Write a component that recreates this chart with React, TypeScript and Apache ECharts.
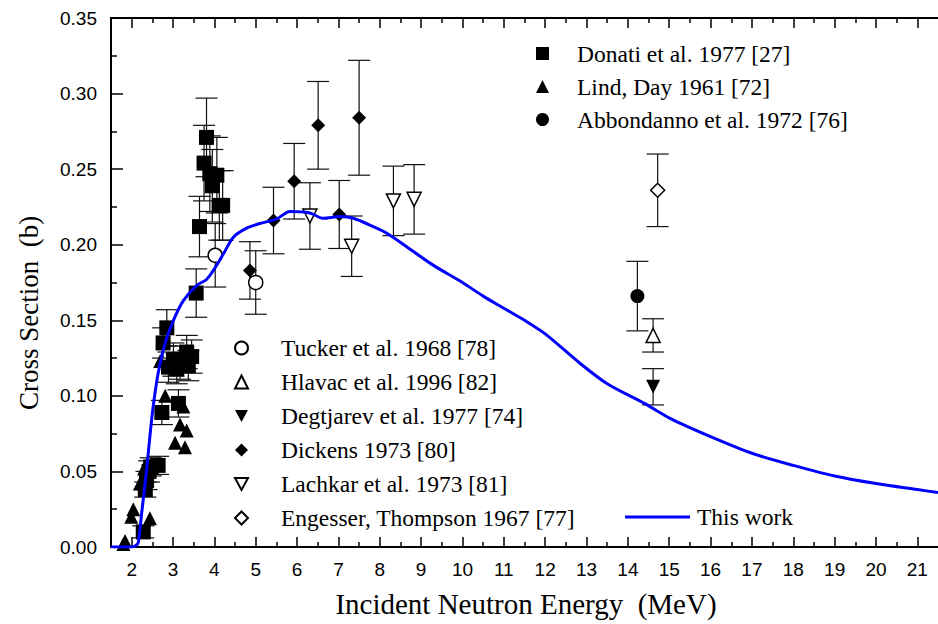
import React, { useEffect, useRef } from "react";
import * as echarts from "echarts";

// ---- axis ticks ----
const xMajorTicks = [2, 3, 4, 5, 6, 7, 8, 9, 10, 11, 12, 13, 14, 15, 16, 17, 18, 19, 20, 21];
const xMinorTicks = [2.5, 3.5, 4.5, 5.5, 6.5, 7.5, 8.5, 9.5, 10.5, 11.5, 12.5, 13.5, 14.5, 15.5, 16.5, 17.5, 18.5, 19.5, 20.5];

// ---- data: [E (MeV), sigma (b), error] ----
const donati = [
  [2.28, 0.010, 0.004], [2.33, 0.038, 0.005], [2.36, 0.044, 0.006], [2.42, 0.050, 0.007],
  [2.46, 0.053, 0.006], [2.64, 0.054, 0.006], [2.73, 0.089, 0.008], [2.76, 0.135, 0.010],
  [2.85, 0.145, 0.012], [2.89, 0.119, 0.010], [3.01, 0.124, 0.011], [3.09, 0.118, 0.010],
  [3.13, 0.095, 0.009], [3.17, 0.122, 0.011], [3.33, 0.129, 0.011], [3.37, 0.120, 0.010],
  [3.45, 0.126, 0.011], [3.56, 0.168, 0.016], [3.64, 0.212, 0.020], [3.75, 0.254, 0.025],
  [3.81, 0.271, 0.026], [3.89, 0.247, 0.025], [3.95, 0.239, 0.024], [4.06, 0.246, 0.025],
  [4.12, 0.226, 0.023], [4.20, 0.226, 0.023],
];
const lind = [
  [1.80, 0.002], [1.84, 0.004], [1.99, 0.020], [2.04, 0.025], [2.20, 0.042], [2.28, 0.046],
  [2.30, 0.052], [2.44, 0.019], [2.69, 0.123], [2.81, 0.100], [3.05, 0.069], [3.17, 0.081],
  [3.25, 0.093], [3.29, 0.066], [3.33, 0.077],
];
const abbondanno = [[14.23, 0.166, 0.023]];
const tucker = [[4.02, 0.193, 0.021], [5.0, 0.175, 0.021]];
const hlavac = [[14.61, 0.140, 0.011]];
const degtjarev = [[14.61, 0.106, 0.012]];
const dickens = [
  [4.86, 0.183, 0.019], [5.43, 0.216, 0.022], [5.93, 0.242, 0.025], [6.51, 0.279, 0.029],
  [7.02, 0.220, 0.0225], [7.50, 0.284, 0.038],
];
const lachkar = [[6.31, 0.219, 0.022], [7.32, 0.199, 0.020], [8.33, 0.229, 0.023], [8.83, 0.230, 0.023]];
const engesser = [[14.72, 0.236, 0.024]];

const thisWorkE = [
  1.5, 2.0, 2.1, 2.16, 2.24, 2.36, 2.44, 2.52, 2.64, 2.81, 3.01, 3.25, 3.57, 3.81, 4.0, 4.22,
  4.46, 4.78, 5.1, 5.5, 5.83, 6.31, 6.63, 7.04, 7.36, 7.84, 8.17, 8.65, 9.29, 10.0, 10.5, 11.0,
  11.5, 12.0, 12.84, 13.5, 14.4, 15.02, 16, 17, 18, 19, 20, 21, 21.5,
];
const thisWorkSigma = [
  0, 0, 0.001, 0.003, 0.022, 0.051, 0.073, 0.093, 0.115, 0.135, 0.150, 0.163, 0.173, 0.177, 0.184, 0.194,
  0.205, 0.211, 0.214, 0.217, 0.222, 0.221, 0.2175, 0.2186, 0.2175, 0.212, 0.2076, 0.1987, 0.1865, 0.175, 0.166, 0.158,
  0.150, 0.141, 0.1216, 0.108, 0.095, 0.0851, 0.073, 0.062, 0.054, 0.047, 0.042, 0.038, 0.036,
];

const SERIF = "'Liberation Serif', 'Times New Roman', serif";
const SANS = "'Liberation Sans', Arial, sans-serif";
const DOWN_TRIANGLE = "path://M0,0L12,0L6,11Z";

function scatter(name: string, rows: number[][], symbol: string, filled: boolean, rotate = 0, size = 14) {
  return {
    name,
    type: "scatter",
    data: rows.map((r) => [r[0], r[1]]),
    symbol,
    symbolSize: size,
    symbolRotate: rotate,
    z: 5,
    itemStyle: filled
      ? { color: "#000", borderWidth: 0, opacity: 1 }
      : { color: "#fff", borderColor: "#000", borderWidth: 1.5, opacity: 1 },
    emphasis: { disabled: true },
  };
}

export default function App() {
  const ref = useRef<HTMLDivElement>(null);
  useEffect(() => {
    const chart = echarts.init(ref.current!, null, { renderer: "svg" });
    const withErr = [donati, abbondanno, tucker, hlavac, degtjarev, dickens, lachkar, engesser];
    const errData: number[][] = [];
    withErr.forEach((s) => s.forEach((r) => errData.push([r[0], r[1] - r[2], r[1] + r[2]])));

    const xBase = {
      type: "value",
      min: 1.5,
      max: 21.5,
      splitLine: { show: false },
      axisLine: { onZero: false, show: true, lineStyle: { color: "#000", width: 2 } },
    };
    const legendText = (lh: number, padLeft: number) => ({
      fontFamily: SERIF,
      fontSize: 23.5,
      color: "#000",
      lineHeight: lh,
      padding: [0, 0, 0, padLeft],
    });

    const option: any = {
      animation: false,
      backgroundColor: "#fff",
      grid: { left: 111, right: 0, top: 18, bottom: 77, containLabel: false },
      xAxis: [
        {
          ...xBase,
          position: "bottom",
          axisTick: { show: true, inside: true, length: 10, customValues: xMajorTicks, lineStyle: { color: "#000", width: 1.5 } },
          axisLabel: { show: true, customValues: xMajorTicks, color: "#000", fontSize: 19, fontFamily: SANS, margin: 13 },
        },
        {
          ...xBase,
          position: "bottom",
          axisLine: { show: false },
          axisTick: { show: true, inside: true, length: 5, customValues: xMinorTicks, lineStyle: { color: "#000", width: 1.5 } },
          axisLabel: { show: false },
        },
        {
          ...xBase,
          position: "top",
          axisTick: { show: true, inside: true, length: 10, customValues: xMajorTicks, lineStyle: { color: "#000", width: 1.5 } },
          axisLabel: { show: false },
        },
        {
          ...xBase,
          position: "top",
          axisLine: { show: false },
          axisTick: { show: true, inside: true, length: 5, customValues: xMinorTicks, lineStyle: { color: "#000", width: 1.5 } },
          axisLabel: { show: false },
        },
      ],
      yAxis: {
        type: "value",
        min: 0,
        max: 0.35,
        interval: 0.05,
        splitLine: { show: false },
        axisLine: { show: true, lineStyle: { color: "#000", width: 2 } },
        axisTick: { show: true, inside: true, length: 12, lineStyle: { color: "#000", width: 1.5 } },
        minorTick: { show: true, splitNumber: 2, length: 6, lineStyle: { color: "#000", width: 1.5 } },
        axisLabel: { color: "#000", fontSize: 19, fontFamily: SANS, margin: 14, formatter: (v: number) => v.toFixed(2) },
      },
      legend: [
        {
          data: ["Donati et al. 1977 [27]", "Lind, Day 1961 [72]", "Abbondanno et al. 1972 [76]"],
          orient: "vertical",
          left: 536,
          top: 37,
          padding: 0,
          itemWidth: 13,
          itemHeight: 13,
          itemGap: 0,
          selectedMode: false,
          textStyle: legendText(33, 23),
        },
        {
          data: [
            "Tucker et al. 1968 [78]",
            "Hlavac et al. 1996 [82]",
            { name: "Degtjarev et al. 1977 [74]", icon: DOWN_TRIANGLE },
            "Dickens 1973 [80]",
            { name: "Lachkar et al. 1973 [81]", icon: DOWN_TRIANGLE },
            "Engesser, Thompson 1967 [77]",
          ],
          orient: "vertical",
          left: 234,
          top: 331,
          padding: 0,
          itemWidth: 13,
          itemHeight: 13,
          itemGap: 0,
          selectedMode: false,
          textStyle: legendText(34, 28),
        },
        {
          data: [{ name: "This work", icon: "rect" }],
          orient: "vertical",
          left: 625,
          top: 500,
          padding: 0,
          itemWidth: 65,
          itemHeight: 3,
          itemGap: 0,
          selectedMode: false,
          textStyle: legendText(34, 2),
        },
      ],
      graphic: [
        {
          type: "text",
          x: 526,
          y: 604,
          style: {
            text: "Incident Neutron Energy  (MeV)",
            fontFamily: SERIF,
            fontSize: 29,
            fill: "#000",
            textAlign: "center",
            textVerticalAlign: "middle",
          },
        },
        {
          type: "text",
          x: 29,
          y: 313,
          rotation: Math.PI / 2,
          style: {
            text: "Cross Section  (b)",
            fontFamily: SERIF,
            fontSize: 27,
            fill: "#000",
            textAlign: "center",
            textVerticalAlign: "middle",
          },
        },
      ],
      series: [
        {
          name: "errors",
          type: "custom",
          data: errData,
          encode: { x: 0, y: [1, 2] },
          z: 2,
          clip: true,
          silent: true,
          renderItem: (params: any, api: any) => {
            const x = api.value(0);
            const lo = api.coord([x, api.value(1)]);
            const hi = api.coord([x, api.value(2)]);
            const hw = 11;
            const st = { stroke: "#111", lineWidth: 1.2 };
            return {
              type: "group",
              children: [
                { type: "line", shape: { x1: lo[0], y1: lo[1], x2: hi[0], y2: hi[1] }, style: st },
                { type: "line", shape: { x1: lo[0] - hw, y1: lo[1], x2: lo[0] + hw, y2: lo[1] }, style: st },
                { type: "line", shape: { x1: hi[0] - hw, y1: hi[1], x2: hi[0] + hw, y2: hi[1] }, style: st },
              ],
            };
          },
        },
        scatter("Donati et al. 1977 [27]", donati, "rect", true, 0, 15),
        scatter("Lind, Day 1961 [72]", lind, "triangle", true),
        scatter("Abbondanno et al. 1972 [76]", abbondanno, "circle", true),
        scatter("Tucker et al. 1968 [78]", tucker, "circle", false),
        scatter("Hlavac et al. 1996 [82]", hlavac, "triangle", false),
        scatter("Degtjarev et al. 1977 [74]", degtjarev, "triangle", true, 180),
        scatter("Dickens 1973 [80]", dickens, "diamond", true),
        scatter("Lachkar et al. 1973 [81]", lachkar, "triangle", false, 180),
        scatter("Engesser, Thompson 1967 [77]", engesser, "diamond", false),
        {
          name: "This work",
          type: "line",
          data: thisWorkE.map((e, i) => [e, thisWorkSigma[i]]),
          showSymbol: false,
          symbol: "none",
          smooth: 0.3,
          z: 6,
          lineStyle: { color: "#0000ff", width: 3 },
          itemStyle: { color: "#0000ff" },
          emphasis: { disabled: true },
        },
      ],
    };
    chart.setOption(option);
    return () => chart.dispose();
  }, []);
  return (
    <div
      ref={ref}
      style={{ position: "absolute", left: 0, top: 0, width: 938, height: 624, background: "#fff" }}
    />
  );
}
